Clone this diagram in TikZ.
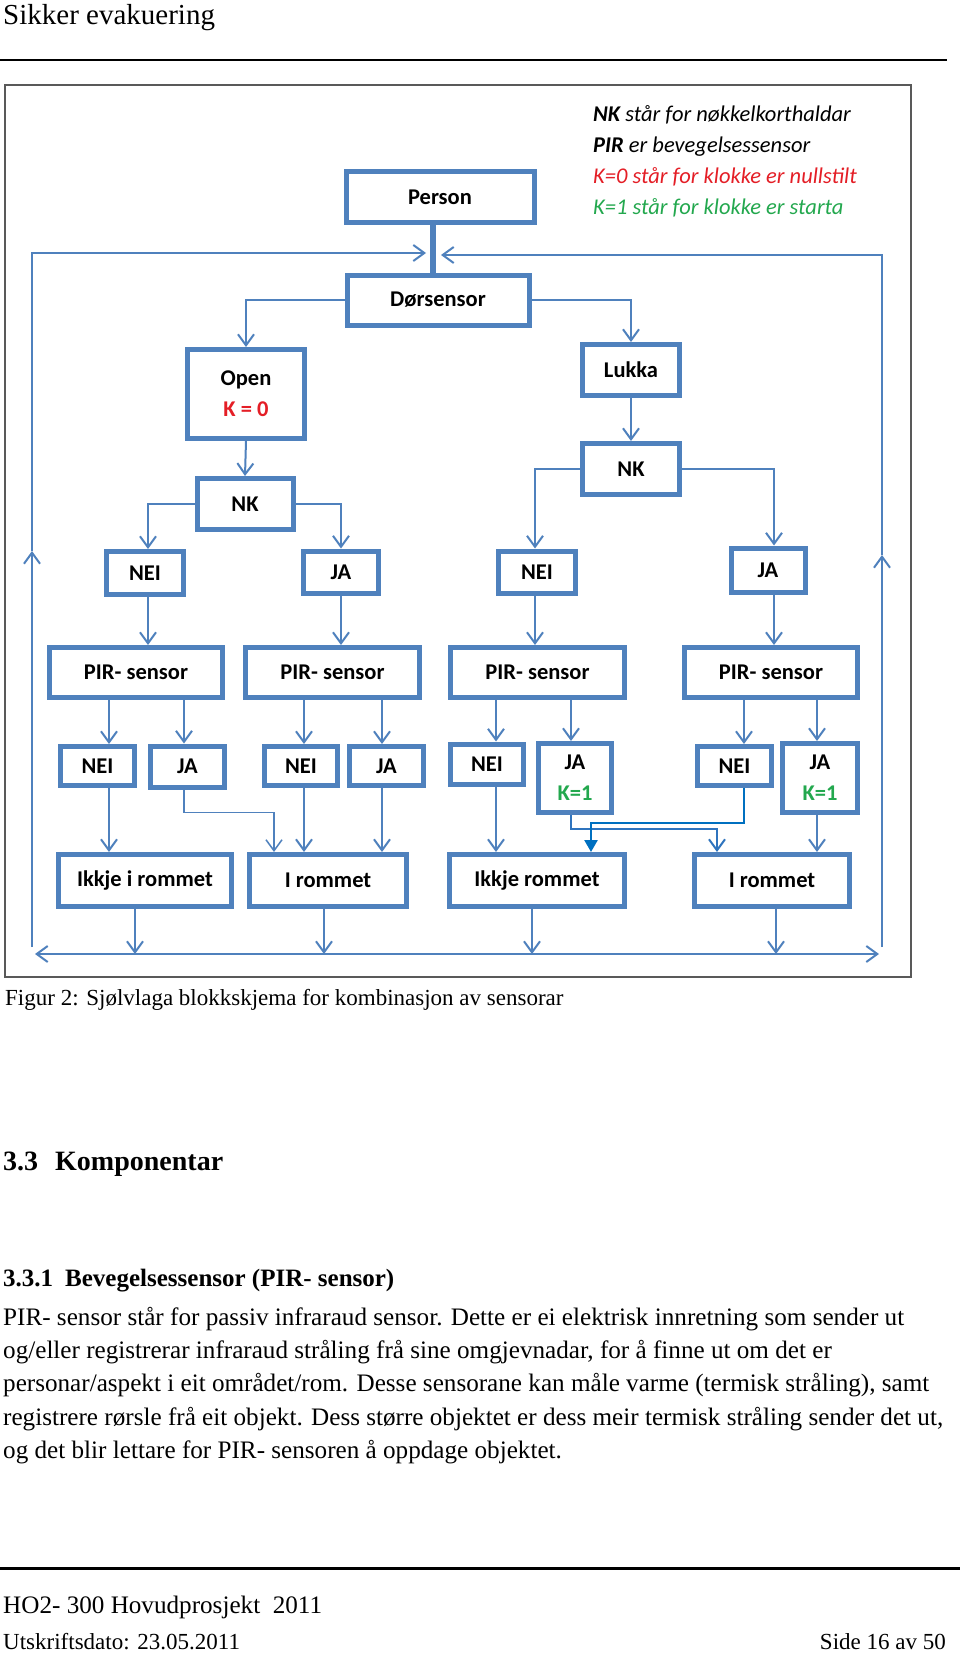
\documentclass[tikz,border=0pt]{standalone}
\usepackage{fontspec}
\setmainfont{Liberation Serif}
\newfontfamily\calibri{Carlito}
\usetikzlibrary{arrows.meta,calc}
\definecolor{boxblue}{HTML}{4F81BD}
\definecolor{darkblue}{HTML}{0070C0}
\definecolor{midblue}{HTML}{2F74BE}
\definecolor{kred}{HTML}{E41E26}
\definecolor{kgreen}{HTML}{23A84E}
\newcommand\boxfont{\calibri\bfseries\fontsize{22.5}{31}\selectfont}
\newcommand\legfont{\calibri\itshape\fontsize{22.5}{24}\selectfont}
\newcommand\bodyfont{\fontsize{25.15}{33}\selectfont}
\newcommand\smallfont{\fontsize{23}{28}\selectfont}
\tikzset{
  barb/.tip={Straight Barb[length=11pt,width=16pt]},
  blk/.style={draw=boxblue, line width=5pt, fill=white, inner sep=0pt, align=center, font=\boxfont},
  link/.style={boxblue, line width=2pt},
  arr/.style={link, -barb},
  txt/.style={anchor=base west, inner sep=0pt},
}

\begin{document}
\begin{tikzpicture}[x=1pt, y=-1pt]
		%%%%% PAGE %%%%%
		\useasboundingbox (0,0) rectangle (960,1654);
		\fill[white] (0,0) rectangle (960,1654);
		
		\node[txt, font=\fontsize{29}{32}\selectfont] (header) at (3,25) {Sikker evakuering};
		\draw[line width=2pt] (0,60) -- (947,60);
		
		%%%%% FIGURE %%%%%
		\draw[line width=1.5pt, color=black!65] (5,85) rectangle (911,977);
		
		% legend
		\node[txt, font=\legfont] (legNK) at (593,121) {\bfseries NK\mdseries\ står for nøkkelkorthaldar};
		\node[txt, font=\legfont] (legPIR) at (593,152) {\bfseries PIR\mdseries\ er bevegelsessensor};
		\node[txt, font=\legfont, color=kred] (legK0) at (593,183) {K=0 står for klokke er nullstilt};
		\node[txt, font=\legfont, color=kgreen] (legK1) at (593,214) {K=1 står for klokke er starta};
		
		% top
		\node[blk, minimum width=188, minimum height=51] (person) at (440,197) {Person};
		\node[blk, minimum width=182, minimum height=50] (door) at (438,300) {Dørsensor};
		\node[blk, minimum width=117, minimum height=89] (open) at (246,394) {Open\\\textcolor{kred}{K = 0}};
		\node[blk, minimum width=97, minimum height=51] (lukka) at (631,370) {Lukka};
		\node[blk, minimum width=96, minimum height=51] (nkL) at (245,504) {NK};
		\node[blk, minimum width=97, minimum height=51] (nkR) at (631,469) {NK};
		
		\node[blk, minimum width=77, minimum height=43] (neiA) at (145,573) {NEI};
		\node[blk, minimum width=75, minimum height=42] (jaA) at (341,572) {JA};
		\node[blk, minimum width=77, minimum height=42] (neiB) at (537,572) {NEI};
		\node[blk, minimum width=74, minimum height=44] (jaB) at (768,570) {JA};
		
		\node[blk, minimum width=173, minimum height=50] (pir1) at (136,672.5) {PIR- sensor};
		\node[blk, minimum width=174, minimum height=50] (pir2) at (332.5,672.5) {PIR- sensor};
		\node[blk, minimum width=174, minimum height=50] (pir3) at (537.5,672.5) {PIR- sensor};
		\node[blk, minimum width=173, minimum height=50] (pir4) at (771,672.5) {PIR- sensor};
		
		\node[blk, minimum width=74, minimum height=39] (nei1) at (97.5,766) {NEI};
		\node[blk, minimum width=74, minimum height=41] (ja1) at (187.5,766.5) {JA};
		\node[blk, minimum width=73, minimum height=39] (nei2) at (301,766) {NEI};
		\node[blk, minimum width=74, minimum height=39] (ja2) at (386.5,766) {JA};
		\node[blk, minimum width=73, minimum height=40] (nei3) at (487,764) {NEI};
		\node[blk, minimum width=73, minimum height=69] (ja3) at (575,778) {JA\\\textcolor{kgreen}{K=1}};
		\node[blk, minimum width=74, minimum height=39] (nei4) at (734.5,766) {NEI};
		\node[blk, minimum width=75, minimum height=69] (ja4) at (820,778) {JA\\\textcolor{kgreen}{K=1}};
		
		\node[blk, minimum width=173, minimum height=52] (ikkje1) at (145,880.5) {Ikkje i rommet};
		\node[blk, minimum width=157, minimum height=52] (irom1) at (328,880.5) {I rommet};
		\node[blk, minimum width=175, minimum height=52] (ikkje2) at (537,880.5) {Ikkje rommet};
		\node[blk, minimum width=155, minimum height=52] (irom2) at (772,880.5) {I rommet};
		
		% return loop
		\coordinate (botL) at (35,954);
		\coordinate (botR) at (879,954);
		\coordinate (retL) at (32,947);
		\coordinate (retR) at (882,947);
		\coordinate (midL) at (32,551);
		\coordinate (midR) at (882,555);
		\coordinate (topL) at (32,253);
		\coordinate (topR) at (882,255);
		\coordinate (joinL) at (426,253);
		\coordinate (joinR) at (441,255);
		
		\draw[boxblue, line width=6pt] ([xshift=-7]person.south) -- ([xshift=-7]person.south |- door.north);
		\draw[link, barb-barb] (botL) -- (botR);
		\draw[arr] (retL) -- (midL);
		\draw[arr] (midL) -- (topL) -- (joinL);
		\draw[arr] (retR) -- (midR);
		\draw[arr] (midR) -- (topR) -- (joinR);
		
		% tree
		\draw[arr] (door.west) -| (open.north);
		\draw[arr] (door.east) -| (lukka.north);
		\draw[arr] (open.south) -- (nkL.north);
		\draw[arr] (lukka.south) -- (nkR.north);
		\draw[arr] (nkL.west) -| ([xshift=3]neiA.north);
		\draw[arr] (nkL.east) -| (jaA.north);
		\draw[arr] (nkR.west) -| ([xshift=-2]neiB.north);
		\draw[arr] (nkR.east) -| ([xshift=6]jaB.north);
		
		\draw[arr] ([xshift=3]neiA.south) -- ([xshift=3]neiA.south |- pir1.north);
		\draw[arr] (jaA.south) -- (jaA.south |- pir2.north);
		\draw[arr] ([xshift=-2]neiB.south) -- ([xshift=-2]neiB.south |- pir3.north);
		\draw[arr] ([xshift=6]jaB.south) -- ([xshift=6]jaB.south |- pir4.north);
		
		\draw[arr] ([xshift=11.5]nei1.north |- pir1.south) -- ([xshift=11.5]nei1.north);
		\draw[arr] ([xshift=-3.5]ja1.north |- pir1.south) -- ([xshift=-3.5]ja1.north);
		\draw[arr] ([xshift=3]nei2.north |- pir2.south) -- ([xshift=3]nei2.north);
		\draw[arr] ([xshift=-4.5]ja2.north |- pir2.south) -- ([xshift=-4.5]ja2.north);
		\draw[arr] ([xshift=9]nei3.north |- pir3.south) -- ([xshift=9]nei3.north);
		\draw[arr] ([xshift=-4]ja3.north |- pir3.south) -- ([xshift=-4]ja3.north);
		\draw[arr] ([xshift=9.5]nei4.north |- pir4.south) -- ([xshift=9.5]nei4.north);
		\draw[arr] ([xshift=-3]ja4.north |- pir4.south) -- ([xshift=-3]ja4.north);
		
		\draw[arr] ([xshift=11.5]nei1.south) -- ([xshift=11.5]nei1.south |- ikkje1.north);
		\draw[arr, line width=1.5pt] ([xshift=-3.5]ja1.south) -- ++(0,23) -| ([xshift=-54]irom1.north);
		\draw[arr] ([xshift=3]nei2.south) -- ([xshift=3]nei2.south |- irom1.north);
		\draw[arr] ([xshift=-4.5]ja2.south) -- ([xshift=-4.5]ja2.south |- irom1.north);
		\draw[arr] ([xshift=9]nei3.south) -- ([xshift=9]nei3.south |- ikkje2.north);
		\draw[arr, color=midblue] ([xshift=-4]ja3.south) -- ++(0,14) -| ([xshift=-55]irom2.north);
		\draw[darkblue, line width=2.5pt, -{Triangle[length=12pt,width=13pt]}] ([xshift=9.5]nei4.south) -- ++(0,35) -| ([xshift=54]ikkje2.north);
		\draw[arr] ([xshift=-3]ja4.south) -- ([xshift=-3]ja4.south |- irom2.north);
		
		\draw[arr] ([xshift=-10]ikkje1.south) -- ([xshift=-10]ikkje1.south |- botL);
		\draw[arr] ([xshift=-4]irom1.south) -- ([xshift=-4]irom1.south |- botL);
		\draw[arr] ([xshift=-5]ikkje2.south) -- ([xshift=-5]ikkje2.south |- botL);
		\draw[arr] ([xshift=4]irom2.south) -- ([xshift=4]irom2.south |- botL);
		
		%%%%% TEXT %%%%%
		\node[txt, font=\smallfont] (capt) at (5,1005) {Figur 2: Sjølvlaga blokkskjema for kombinasjon av sensorar};
		
		\node[txt, font=\bfseries\fontsize{28}{32}\selectfont] (secnum) at (3,1170) {3.3};
		\node[txt, font=\bfseries\fontsize{28}{32}\selectfont] (sec) at (55,1170) {Komponentar};
		\node[txt, font=\bfseries\fontsize{25}{30}\selectfont] (subnum) at (3,1286) {3.3.1};
		\node[txt, font=\bfseries\fontsize{25}{30}\selectfont] (subsec) at (65,1286) {Bevegelsessensor (PIR- sensor)};
		
		\node[txt, font=\bodyfont] (para1) at (3,1325) {PIR- sensor står for passiv infraraud sensor. Dette er ei elektrisk innretning som sender ut};
		\node[txt, font=\bodyfont] (para2) at (3,1358.3) {og/eller registrerar infraraud stråling frå sine omgjevnadar, for å finne ut om det er};
		\node[txt, font=\bodyfont] (para3) at (3,1391.6) {personar/aspekt i eit området/rom. Desse sensorane kan måle varme (termisk stråling), samt};
		\node[txt, font=\bodyfont] (para4) at (3,1425) {registrere rørsle frå eit objekt. Dess større objektet er dess meir termisk stråling sender det ut,};
		\node[txt, font=\bodyfont] (para5) at (3,1458.2) {og det blir lettare for PIR- sensoren å oppdage objektet.};
		
		\draw[line width=3pt] (0,1568) -- (960,1568);
		\node[txt, font=\bodyfont] (foot1) at (3,1613) {HO2- 300 Hovudprosjekt~~2011};
		\node[txt, font=\smallfont] (foot2) at (3,1649) {Utskriftsdato: 23.05.2011};
		\node[anchor=base east, inner sep=0pt, font=\smallfont] (side) at (946,1649) {Side 16 av 50};
		
		%%%%% END %%%%%
	\end{tikzpicture}
\end{document}
